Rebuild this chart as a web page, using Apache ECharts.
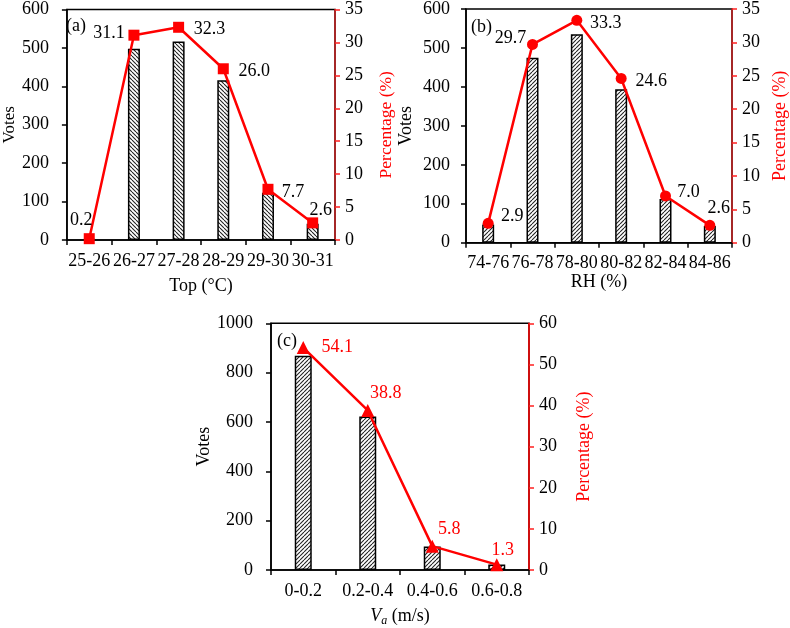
<!DOCTYPE html>
<html>
<head>
<meta charset="utf-8">
<script src="https://cdn.jsdelivr.net/npm/echarts@6/dist/echarts.min.js"></script>
<style>
html,body{margin:0;padding:0;background:#fff;}
#chart{width:790px;height:628px;}
</style>
</head>
<body>
<div id="chart"></div>
<script>
// ---- data ----
var catsA = ['25-26','26-27','27-28','28-29','29-30','30-31'];
var votesA = [3, 498, 517, 416, 123, 42];
var pctA = [0.2, 31.1, 32.3, 26.0, 7.7, 2.6];

var catsB = ['74-76','76-78','78-80','80-82','82-84','84-86'];
var votesB = [47, 475, 535, 394, 112, 43];
var pctB = [2.9, 29.7, 33.3, 24.6, 7.0, 2.6];

var catsC = ['0-0.2','0.2-0.4','0.4-0.6','0.6-0.8'];
var votesC = [868, 622, 95, 22];
var pctC = [54.1, 38.8, 5.8, 1.3];

// ---- styling helpers ----
var FONT = 'Liberation Serif';
var labelOffsetsA = [[-8,-18],[-25,-2],[31,2],[31,2],[25,3],[8,-13]];
var labelOffsetsB = [[24,-7],[-22,-6],[29,3],[30,3],[23,-4],[9,-17]];
var labelOffsetsC = [[34,0],[18,-17],[17,-17],[6,-14]];

function hatch(dir) {
  var s = 4;
  var c = document.createElement('canvas');
  c.width = s; c.height = s;
  var g = c.getContext('2d');
  g.fillStyle = '#fff';
  g.fillRect(0,0,s,s);
  g.strokeStyle = '#222';
  g.lineWidth = 1.1;
  for (var k = -1; k <= 1; k++) {
    g.beginPath();
    if (dir === 'back') { g.moveTo(k*s, 0); g.lineTo(k*s + s, s); }
    else { g.moveTo(k*s, s); g.lineTo(k*s + s, 0); }
    g.stroke();
  }
  return {image: c, repeat: 'repeat'};
}

function lineData(vals, offs) {
  return vals.map(function (v, i) {
    return {value: v, label: {offset: offs[i]}};
  });
}

var chart = echarts.init(document.getElementById('chart'), null, {renderer: 'canvas'});

function xAxis(gi, cats, name, nameGap) {
  return {
    type: 'category', gridIndex: gi, data: cats,
    boundaryGap: true,
    name: name, nameLocation: 'middle', nameGap: nameGap,
    nameTextStyle: {fontFamily: FONT, fontSize: 18, color: '#000'},
    axisLine: {lineStyle: {color: '#000', width: 1.5}},
    axisTick: {show: true, length: 5, lineStyle: {color: '#000', width: 1.5}, alignWithLabel: false},
    axisLabel: {fontFamily: FONT, fontSize: 18, color: '#000', margin: 12, interval: 0},
    splitLine: {show: false}
  };
}
function yLeft(gi, max, interval, nameGap, nameSize, margin) {
  return {
    type: 'value', gridIndex: gi, min: 0, max: max, interval: interval, position: 'left',
    name: 'Votes', nameLocation: 'middle', nameGap: nameGap,
    nameTextStyle: {fontFamily: FONT, fontSize: nameSize, color: '#000'},
    axisLine: {show: true, lineStyle: {color: '#000', width: 1.5}},
    axisTick: {show: true, length: 5, lineStyle: {color: '#000', width: 1.5}},
    axisLabel: {fontFamily: FONT, fontSize: 18, color: '#000', margin: margin,
      formatter: function (v) { return String(v); }},
    splitLine: {show: false}
  };
}
function yRight(gi, max, interval, nameGap, lineColor, nameSize) {
  return {
    type: 'value', gridIndex: gi, min: 0, max: max, interval: interval, position: 'right',
    name: 'Percentage (%)', nameLocation: 'middle', nameGap: nameGap, nameRotate: 90,
    nameTextStyle: {fontFamily: FONT, fontSize: nameSize, color: '#ff0000'},
    axisLine: {show: true, lineStyle: {color: lineColor, width: 1.5}},
    axisTick: {show: true, length: 5, lineStyle: {color: '#ff2020', width: 1.5}},
    axisLabel: {fontFamily: FONT, fontSize: 18, color: '#000', margin: 10,
      formatter: function (v) { return String(v); }},
    splitLine: {show: false}
  };
}
function barSeries(xi, yi, vals, width, dir) {
  return {
    type: 'bar', xAxisIndex: xi, yAxisIndex: yi, data: vals, barWidth: width,
    itemStyle: {color: hatch(dir), borderColor: '#000', borderWidth: 1.5},
    z: 2
  };
}
function lineSeries(xi, yi, vals, offs, symbol, size, labelColor) {
  return {
    type: 'line', xAxisIndex: xi, yAxisIndex: yi, data: lineData(vals, offs),
    symbol: symbol, symbolSize: size, showAllSymbol: true,
    lineStyle: {color: '#ff0000', width: 2.5},
    itemStyle: {color: '#ff0000'},
    label: {
      show: true, position: 'inside', fontFamily: FONT, fontSize: 18, color: labelColor,
      formatter: function (p) { return Number(p.value).toFixed(1); }
    },
    z: 5
  };
}

var gridStyle = {show: true, borderColor: '#000', borderWidth: 1.5, backgroundColor: 'transparent'};

var option = {
  animation: false,
  backgroundColor: '#fff',
  title: [
    {text: '(a)', left: 66, top: 17, textStyle: {fontFamily: FONT, fontSize: 18, fontWeight: 'normal', color: '#000'}, padding: 0},
    {text: '(b)', left: 471, top: 18, textStyle: {fontFamily: FONT, fontSize: 18, fontWeight: 'normal', color: '#000'}, padding: 0},
    {text: '(c)', left: 277, top: 332, textStyle: {fontFamily: FONT, fontSize: 18, fontWeight: 'normal', color: '#000'}, padding: 0}
  ],
  grid: [
    Object.assign({left: 63, top: 9.5, width: 272, height: 230.5}, gridStyle),
    Object.assign({left: 466, top: 7.5, width: 268, height: 235.2}, gridStyle),
    Object.assign({left: 271, top: 323.3, width: 258, height: 247.4}, gridStyle)
  ],
  xAxis: [
    xAxis(0, catsA, 'Top (°C)', 37),
    xAxis(1, catsB, 'RH (%)', 27),
    Object.assign(xAxis(2, catsC, '', 35), {
      name: '{i|V}{sub|a} (m/s)',
      nameTextStyle: {
        fontFamily: FONT, fontSize: 18, color: '#000',
        rich: {
          i: {fontFamily: FONT, fontSize: 18, fontStyle: 'italic', color: '#000'},
          sub: {fontFamily: FONT, fontSize: 12, fontStyle: 'italic', color: '#000', padding: [10, 0, 0, 0]}
        }
      }
    })
  ],
  yAxis: [
    yLeft(0, 600, 100, 48, 17, 18),
    yRight(0, 35, 5, 42, '#c82020', 17.5),
    yLeft(1, 600, 100, 51, 18, 16),
    yRight(1, 35, 5, 39, '#c82020', 18),
    yLeft(2, 1000, 200, 56, 18, 18),
    yRight(2, 60, 10, 46, '#ff0000', 18)
  ],
  series: [
    barSeries(0, 0, votesA, 12, 'back'),
    lineSeries(0, 1, pctA, labelOffsetsA, 'rect', 11, '#000'),
    barSeries(1, 2, votesB, 12, 'fwd'),
    lineSeries(1, 3, pctB, labelOffsetsB, 'circle', 11, '#000'),
    barSeries(2, 4, votesC, 17, 'fwd'),
    lineSeries(2, 5, pctC, labelOffsetsC, 'triangle', 13, '#ff0000')
  ]
};
chart.setOption(option);
</script>
</body>
</html>
